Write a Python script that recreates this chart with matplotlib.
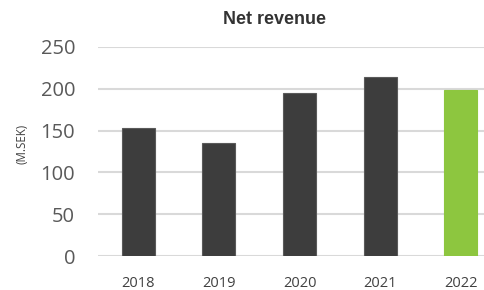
import matplotlib

matplotlib.use("Agg")

import matplotlib.pyplot as plt

years = ["2018", "2019", "2020", "2021", "2022"]
revenue = [153, 135, 195, 214, 198]
bar_colors = ["#3d3d3d", "#3d3d3d", "#3d3d3d", "#3d3d3d", "#8dc63f"]
edge_colors = ["#5a5a5a", "#5a5a5a", "#5a5a5a", "#5a5a5a", "#8dc63f"]
yticks = [0, 50, 100, 150, 200, 250]

fig = plt.figure(figsize=(4.85, 2.9), dpi=100)
ax = fig.add_axes([98 / 485, 1 - 256 / 290, 403 / 485, 209 / 290])

x = range(len(years))
ax.bar(x, revenue, width=0.41, color=bar_colors, edgecolor=edge_colors,
       linewidth=0.8, zorder=3)

ax.set_ylim(0, 250)
ax.set_xlim(-0.5, len(years) - 0.5)
ax.set_yticks(yticks)
ax.set_xticks(list(x))
ax.set_xticklabels(years)
ax.grid(axis="y", color="#d9d9d9", linewidth=1.5, zorder=0)
ax.set_axisbelow(True)
for s in ax.spines.values():
    s.set_visible(False)
ax.tick_params(axis="both", length=0)
ax.tick_params(axis="y", pad=16.5, labelsize=14.5, labelcolor="#595959")
ax.tick_params(axis="x", pad=14.5, labelsize=10.5, labelcolor="#404040")
for lab in ax.get_yticklabels() + ax.get_xticklabels():
    lab.set_fontfamily("Open Sans")

fig.text(275 / 485, 1 - 20 / 290, "Net revenue", ha="center", va="center",
         fontsize=13, fontweight="bold", color="#333333", family="Liberation Sans")
fig.text(21.5 / 485, 1 - 144 / 290, "(M.SEK)", ha="center", va="center",
         rotation=90, fontsize=8.3, color="#404040", family="Open Sans")

fig.savefig("out.png", dpi=100)
